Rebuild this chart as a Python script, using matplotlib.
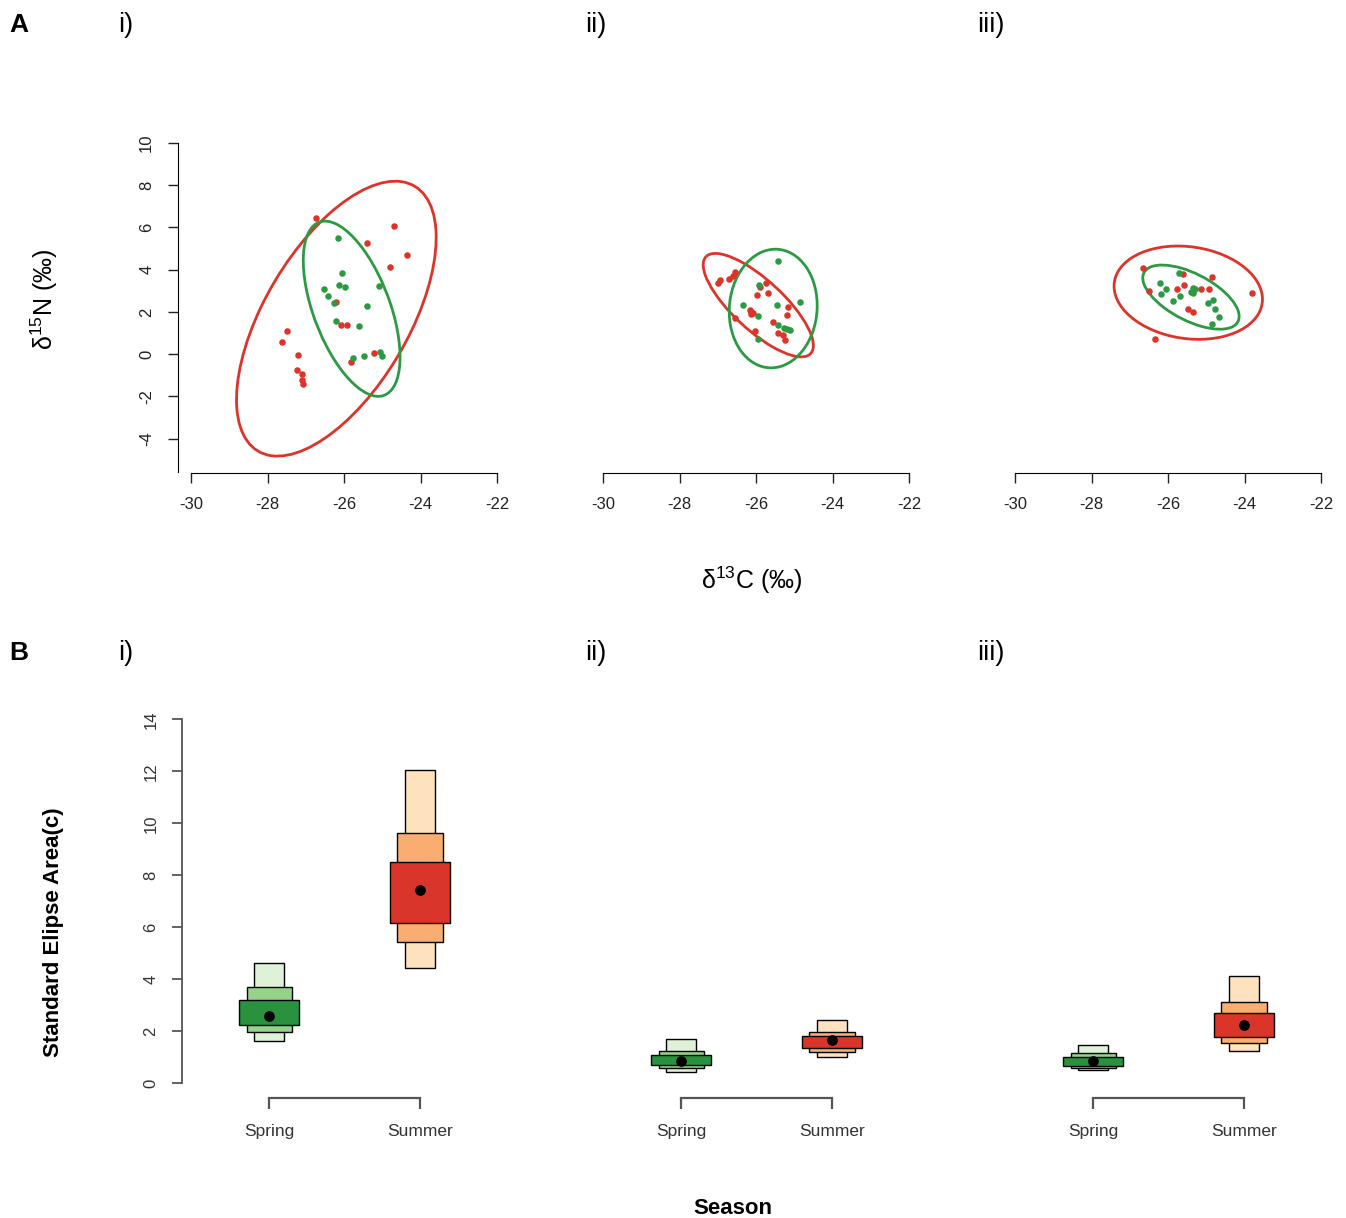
import numpy as np
import matplotlib
matplotlib.use('Agg')
import matplotlib.pyplot as plt
from matplotlib.patches import Ellipse

plt.rcParams['font.family'] = ['Liberation Sans', 'DejaVu Sans']
plt.rcParams['axes.unicode_minus'] = False
plt.rcParams['mathtext.fontset'] = 'custom'
plt.rcParams['mathtext.rm'] = 'Liberation Sans'
plt.rcParams['mathtext.it'] = 'Liberation Sans'

# ---- panel A data (d13C, d15N) ----
a1_summer_x = [-26.72, -24.70, -24.35, -25.39, -24.80, -26.22, -26.09, -25.91, -27.50, -27.61,
               -27.20, -27.24, -27.11, -27.11, -27.06, -25.83, -25.22]
a1_summer_y = [6.45, 6.07, 4.69, 5.24, 4.14, 2.48, 1.40, 1.38, 1.10, 0.58,
               -0.05, -0.74, -0.93, -1.24, -1.40, -0.38, 0.05]
a1_spring_x = [-26.15, -26.04, -26.12, -25.97, -26.52, -26.42, -26.26, -25.41, -26.21, -25.61,
               -25.76, -25.48, -25.07, -25.00, -25.09]
a1_spring_y = [5.50, 3.82, 3.29, 3.16, 3.10, 2.75, 2.41, 2.30, 1.56, 1.31,
               -0.17, -0.11, 0.08, -0.11, 3.24]

a2_summer_x = [-26.99, -26.94, -26.70, -26.59, -26.55, -25.90, -25.74, -25.69, -25.98, -26.16,
               -26.12, -26.07, -26.14, -26.55, -25.17, -25.20, -25.55, -26.03, -25.42, -25.30, -25.24]
a2_summer_y = [3.38, 3.51, 3.54, 3.70, 3.90, 3.19, 3.35, 2.88, 2.80, 2.09,
               2.00, 1.93, 1.90, 1.69, 2.21, 1.85, 1.53, 1.10, 1.01, 0.90, 0.66]
a2_spring_x = [-25.43, -25.91, -26.33, -25.44, -24.85, -25.96, -25.42, -25.27, -25.11, -25.94, -25.20]
a2_spring_y = [4.42, 3.27, 2.35, 2.32, 2.48, 1.80, 1.37, 1.22, 1.14, 0.74, 1.18]

a3_summer_x = [-26.65, -26.49, -25.60, -25.58, -25.76, -25.15, -24.92, -24.86, -25.47, -25.35, -23.81, -26.34]
a3_summer_y = [4.06, 3.00, 3.78, 3.27, 3.07, 3.07, 3.07, 3.66, 2.16, 2.00, 2.88, 0.74]
a3_spring_x = [-25.71, -26.21, -26.05, -26.17, -25.69, -25.88, -25.41, -25.29, -25.35, -25.34,
               -24.82, -24.95, -24.77, -24.66, -24.86]
a3_spring_y = [3.82, 3.38, 3.07, 2.83, 2.75, 2.51, 2.95, 3.07, 3.11, 2.91,
               2.56, 2.40, 2.12, 1.74, 1.45]

# standard ellipses: centre x, centre y, sd x, sd y, correlation
a1_summer_ell = (-26.2, 1.68, 2.61, 6.51, 0.59)
a1_spring_ell = (-25.8, 2.15, 1.265, 4.15, -0.55)
a2_summer_ell = (-25.94, 2.32, 1.44, 2.45, -0.78)
a2_spring_ell = (-25.55, 2.16, 1.15, 2.81, 0.05)
a3_summer_ell = (-25.47, 2.91, 1.94, 2.21, -0.14)
a3_spring_ell = (-25.40, 2.70, 1.26, 1.52, -0.60)

# ---- panel B data (SEA_B credible intervals), [Spring, Summer] ----
seasons = ['Spring', 'Summer']
b1_lo95 = [1.64, 4.45]; b1_hi95 = [4.62, 12.05]
b1_lo75 = [1.99, 5.45]; b1_hi75 = [3.69, 9.62]
b1_lo50 = [2.24, 6.15]; b1_hi50 = [3.21, 8.50]
b1_mode = [2.57, 7.43]
b2_lo95 = [0.45, 1.02]; b2_hi95 = [1.70, 2.43]
b2_lo75 = [0.58, 1.22]; b2_hi75 = [1.25, 1.98]
b2_lo50 = [0.70, 1.35]; b2_hi50 = [1.09, 1.82]
b2_mode = [0.86, 1.67]
b3_lo95 = [0.51, 1.25]; b3_hi95 = [1.47, 4.13]
b3_lo75 = [0.58, 1.56]; b3_hi75 = [1.15, 3.14]
b3_lo50 = [0.67, 1.77]; b3_hi50 = [1.02, 2.72]
b3_mode = [0.86, 2.24]

RED = '#dd3328'
GREEN = '#2b9a43'
greens = ['#dff2d8', '#95d28a', '#2a913f']
reds = ['#fde2bd', '#f9ad70', '#d9352a']

W, H = 1346, 1218
fig = plt.figure(figsize=(W / 100, H / 100), dpi=100)


def px_axes(x0, x1, ytop, ybot):
    return fig.add_axes([x0 / W, 1 - ybot / H, (x1 - x0) / W, (ybot - ytop) / H])


def draw_ellipse(ax, p, color):
    cx, cy, sx, sy, r = p
    cov = np.array([[sx * sx, r * sx * sy], [r * sx * sy, sy * sy]])
    vals, vecs = np.linalg.eigh(cov)
    ang = np.degrees(np.arctan2(vecs[1, 1], vecs[0, 1]))
    e = Ellipse((cx, cy), 2 * np.sqrt(vals[1]), 2 * np.sqrt(vals[0]), angle=ang,
                fill=False, edgecolor=color, lw=2.0, clip_on=False)
    ax.add_patch(e)


# ---- panel A ----
panelsA = [
    (a1_spring_x, a1_spring_y, a1_summer_x, a1_summer_y, a1_spring_ell, a1_summer_ell),
    (a2_spring_x, a2_spring_y, a2_summer_x, a2_summer_y, a2_spring_ell, a2_summer_ell),
    (a3_spring_x, a3_spring_y, a3_summer_x, a3_summer_y, a3_spring_ell, a3_summer_ell),
]
for k, (gx, gy, rx, ry, gell, rell) in enumerate(panelsA):
    off = 412 * k
    ax = px_axes(191 + off, 497 + off, 143, 473)
    ax.set_xlim(-30, -22)
    ax.set_ylim(-5.63, 10)
    draw_ellipse(ax, rell, RED)
    draw_ellipse(ax, gell, GREEN)
    ax.scatter(rx, ry, s=22, color=RED, lw=0, zorder=3, clip_on=False)
    ax.scatter(gx, gy, s=22, color=GREEN, lw=0, zorder=3, clip_on=False)
    ax.set_xticks([-30, -28, -26, -24, -22])
    ax.set_yticks([-4, -2, 0, 2, 4, 6, 8, 10])
    ax.spines['top'].set_visible(False)
    ax.spines['right'].set_visible(False)
    ax.spines['bottom'].set_bounds(-30, -22)
    ax.tick_params(direction='out', length=7, width=1, labelsize=12, pad=10, colors='#222222')
    if k == 0:
        ax.spines['left'].set_position(('outward', 9.5))
        ax.spines['left'].set_bounds(-5.6, 10)
        for lab in ax.get_yticklabels():
            lab.set_rotation(90)
            lab.set_va('center')
    else:
        ax.spines['left'].set_visible(False)
        ax.tick_params(axis='y', left=False, labelleft=False)
    ax.patch.set_alpha(0)

# ---- panel B ----
panelsB = [
    (b1_lo95, b1_hi95, b1_lo75, b1_hi75, b1_lo50, b1_hi50, b1_mode),
    (b2_lo95, b2_hi95, b2_lo75, b2_hi75, b2_lo50, b2_hi50, b2_mode),
    (b3_lo95, b3_hi95, b3_lo75, b3_hi75, b3_lo50, b3_hi50, b3_mode),
]
pos = np.array([1, 2])
step = 150.7
for k, (lo95, hi95, lo75, hi75, lo50, hi50, mode) in enumerate(panelsB):
    off = 412 * k
    x1px = 269.3 + off
    left = x1px - 0.58 * step
    right = x1px + 1.6 * step
    ax = px_axes(left, right, 719.3 - 0.2 * 26, 1098)
    ax.set_xlim(0.42, 2.6)
    ax.set_ylim(-0.565, 14.2)
    for lo, hi, w, j in [(lo95, hi95, 0.2, 0), (lo75, hi75, 0.3, 1), (lo50, hi50, 0.4, 2)]:
        ax.bar(pos, np.array(hi) - np.array(lo), bottom=lo, width=w,
               color=[greens[j], reds[j]], edgecolor='black', lw=1.0, zorder=2 + j)
    ax.scatter(pos, mode, s=45, color='black', zorder=6)
    ax.set_xticks(pos)
    ax.set_xticklabels(seasons)
    ax.set_yticks([0, 2, 4, 6, 8, 10, 12, 14])
    ax.spines['top'].set_visible(False)
    ax.spines['right'].set_visible(False)
    ax.spines['bottom'].set_bounds(1, 2)
    ax.spines['bottom'].set_color('#555555')
    ax.spines['bottom'].set_linewidth(1.6)
    ax.tick_params(axis='x', direction='out', length=8, width=1.6, color='#555555',
                   labelsize=12.5, pad=11, labelcolor='#333333')
    ax.tick_params(axis='y', direction='out', length=7, width=1.3, color='#555555',
                   labelsize=12, pad=10, labelcolor='#333333')
    if k == 0:
        ax.spines['left'].set_bounds(0, 14)
        ax.spines['left'].set_color('#555555')
        ax.spines['left'].set_linewidth(1.3)
        for lab in ax.get_yticklabels():
            lab.set_rotation(90)
            lab.set_va('center')
    else:
        ax.spines['left'].set_visible(False)
        ax.tick_params(axis='y', left=False, labelleft=False)
    ax.patch.set_alpha(0)

# ---- labels ----
def ftext(px, py, s, **kw):
    fig.text(px / W, 1 - py / H, s, **kw)

for py, tag in [(25, 'A'), (653, 'B')]:
    ftext(9, py, tag, fontsize=19, fontweight='bold', va='center', ha='left')
    ftext(118, py, 'i)', fontsize=19.5, va='center', ha='left')
    ftext(585, py, 'ii)', fontsize=19.5, va='center', ha='left')
    ftext(977, py, 'iii)', fontsize=19.5, va='center', ha='left')

ftext(44, 299, 'δ$^{15}$N (‰)', fontsize=18, rotation=90, va='center', ha='center')
ftext(752, 580, 'δ$^{13}$C (‰)', fontsize=18, va='center', ha='center')
ftext(54, 932, 'Standard Elipse Area(c)', fontsize=16, fontweight='bold', rotation=90,
      va='center', ha='center')
ftext(733, 1208, 'Season', fontsize=16, fontweight='bold', va='center', ha='center')

fig.savefig('out.png', dpi=100)
